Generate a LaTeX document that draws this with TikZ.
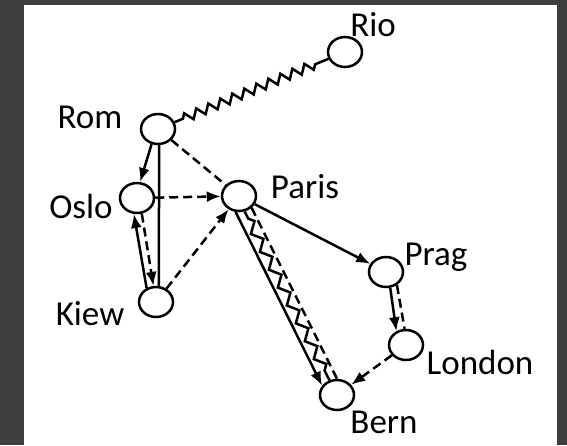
\documentclass[tikz,border=0pt]{standalone}
\usepackage{fontspec}
\setmainfont{Carlito}
\usetikzlibrary{shapes.geometric,arrows.meta,decorations.pathmorphing}
\begin{document}
\begin{tikzpicture}[x=1pt,y=-1pt,
  city/.style={ellipse,draw,line width=2.5pt,minimum width=34pt,minimum height=30pt,inner sep=0pt,fill=white},
  lbl/.style={font=\fontsize{35}{40}\selectfont,anchor=base,inner sep=0pt,text=black},
  edge/.style={line width=2.5pt},
  arr/.style={-{Latex[length=14pt,width=11pt]}},
  dsh/.style={dash pattern=on 9pt off 5pt},
  wave/.style={decorate,decoration={zigzag,segment length=13pt,amplitude=4.5pt,pre length=9pt,post length=9pt}},
  wavelong/.style={decorate,decoration={zigzag,segment length=20pt,amplitude=4.5pt,pre length=8pt,post length=8pt}},
]
\fill[fill={rgb,255:red,62;green,62;blue,62}] (0,0) rectangle (567,445);
\fill[white] (24,5) rectangle (557,445);
\useasboundingbox (0,0) rectangle (567,445);

\node[city] (rio) at (345,52) {};
\node[city] (rom) at (158,129) {};
\node[city] (oslo) at (137,198) {};
\node[city] (paris) at (239,196) {};
\node[city] (kiew) at (156,302) {};
\node[city] (prag) at (386,272) {};
\node[city] (london) at (406,345) {};
\node[city] (bern) at (337,395) {};

\node[lbl] (riol) at (373,36) {Rio};
\node[lbl] (roml) at (90,128) {Rom};
\node[lbl] (oslol) at (81,218) {Oslo};
\node[lbl] (parisl) at (305,198) {Paris};
\node[lbl] (kiewl) at (90,325) {Kiew};
\node[lbl] (pragl) at (436,265) {Prag};
\node[lbl] (londonl) at (480,374) {London};
\node[lbl] (bernl) at (384,433) {Bern};

\draw[edge,wave] (rom) -- (rio);
\draw[edge,arr] (rom.-113) -- (oslo.79);
\draw[edge] (rom.-86) -- (kiew.80);
\draw[edge,dsh] (rom) -- (paris);
\draw[edge,dsh,arr] (oslo) -- (paris);
\draw[edge,arr] (kiew.124) -- (oslo.-101);
\draw[edge,dsh,arr] (oslo.-73) -- (kiew.99);
\draw[edge,dsh,arr] (kiew) -- (paris);
\draw[edge,arr] (paris) -- (prag);
\draw[edge,arr] (paris.-102) -- (bern.148);
\draw[edge,wavelong] (paris.-70) -- (bern.117);
\draw[edge,dsh] (paris.-43) -- (bern.90);
\draw[edge,arr] (prag.-75) -- (london.125);
\draw[edge,dsh] (prag.-50) -- (london.95);
\draw[edge,dsh,arr] (london) -- (bern);
\end{tikzpicture}
\end{document}
